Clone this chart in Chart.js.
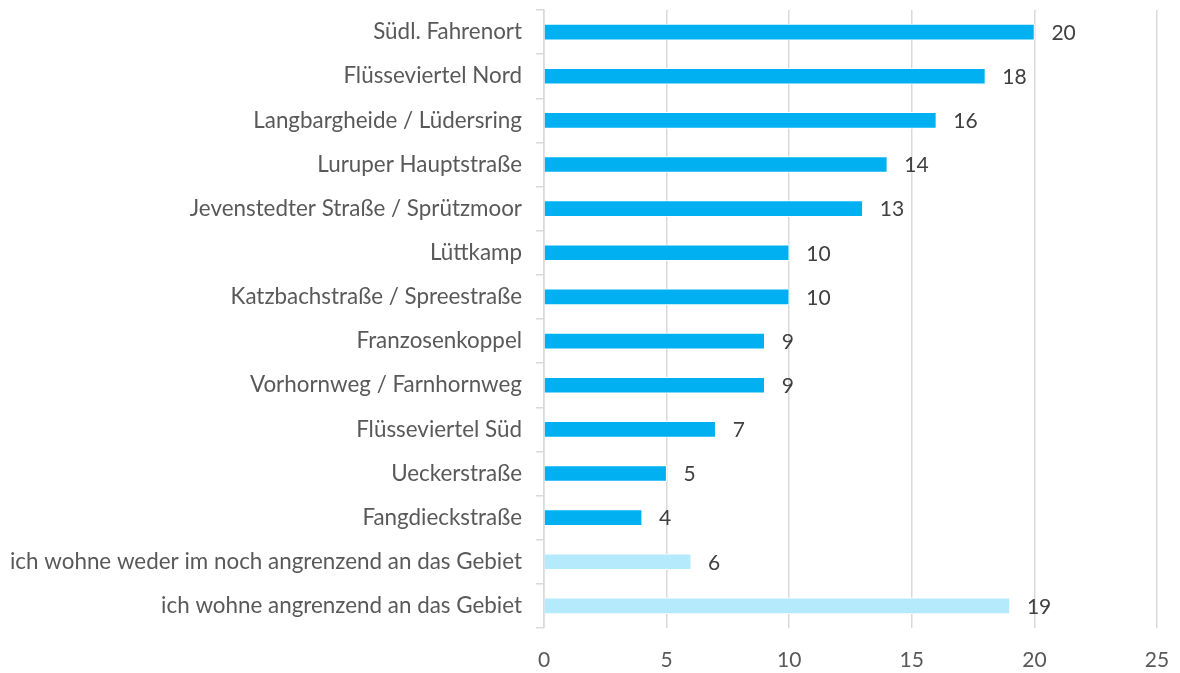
<!DOCTYPE html>
<html>
<head>
<meta charset="utf-8">
<script src="https://cdn.jsdelivr.net/npm/chart.js@4"></script>
<style>
  html, body { margin: 0; padding: 0; background: #fff; }
  #wrap { width: 1180px; height: 673px; position: relative; }
</style>
</head>
<body>
<div id="wrap"><canvas id="chart"></canvas></div>
<script>
// categories, top to bottom
const categories = [
  "Südl. Fahrenort",
  "Flüsseviertel Nord",
  "Langbargheide / Lüdersring",
  "Luruper Hauptstraße",
  "Jevenstedter Straße / Sprützmoor",
  "Lüttkamp",
  "Katzbachstraße / Spreestraße",
  "Franzosenkoppel",
  "Vorhornweg / Farnhornweg",
  "Flüsseviertel Süd",
  "Ueckerstraße",
  "Fangdieckstraße",
  "ich wohne weder im noch angrenzend an das Gebiet",
  "ich wohne angrenzend an das Gebiet"
];
const counts = [20, 18, 16, 14, 13, 10, 10, 9, 9, 7, 5, 4, 6, 19];
// the last two answers are shown in a lighter tone
const isOutside = [false, false, false, false, false, false, false, false, false, false, false, false, true, true];
const xTicks = [0, 5, 10, 15, 20, 25];

const DARK = "#00B0F0";
const LIGHT = "#B5EAFC";
const FONT = "Lato, 'Open Sans', sans-serif";

/* value labels to the right of each bar */
const valueLabels = {
  id: "valueLabels",
  afterDatasetsDraw(chart) {
    const ctx = chart.ctx;
    const meta = chart.getDatasetMeta(0);
    ctx.save();
    ctx.font = "21px " + FONT;
    ctx.fillStyle = "#404040";
    ctx.textAlign = "left";
    ctx.textBaseline = "middle";
    meta.data.forEach((bar, i) => {
      ctx.fillText(String(counts[i]), bar.x + 17, bar.y + 1);
    });
    ctx.restore();
  }
};

new Chart(document.getElementById("chart"), {
  type: "bar",
  data: {
    labels: categories,
    datasets: [{
      data: counts,
      backgroundColor: isOutside.map(o => o ? LIGHT : DARK),
      borderColor: "#fff",
      borderWidth: 1,
      barThickness: 16
    }]
  },
  options: {
    indexAxis: "y",
    responsive: true,
    maintainAspectRatio: false,
    animation: false,
    layout: { padding: { left: 0, right: 23, top: 10, bottom: 0 } },
    plugins: {
      legend: { display: false },
      tooltip: { enabled: false }
    },
    scales: {
      x: {
        min: 0, max: 25,
        afterBuildTicks: s => { s.ticks = xTicks.map(v => ({ value: v })); },
        afterFit: s => { s.height = 45; s.paddingLeft = 0; s.paddingRight = 0; },
        grid: { color: "#D9D9D9", lineWidth: 1.5, drawTicks: false },
        border: { display: false },
        ticks: { color: "#595959", font: { family: FONT, size: 21 }, padding: 20 }
      },
      y: {
        afterFit: s => { s.width = 544; s.paddingTop = 0; s.paddingBottom = 0; },
        grid: { display: true, drawOnChartArea: false, drawTicks: true, tickLength: 8, offset: true, color: "#D9D9D9", lineWidth: 1.5 },
        border: { display: true, color: "#D9D9D9", width: 1.5 },
        ticks: { color: "#595959", font: { family: FONT, size: 22.4 }, padding: 14, autoSkip: false }
      }
    }
  },
  plugins: [valueLabels]
});
</script>
</body>
</html>
